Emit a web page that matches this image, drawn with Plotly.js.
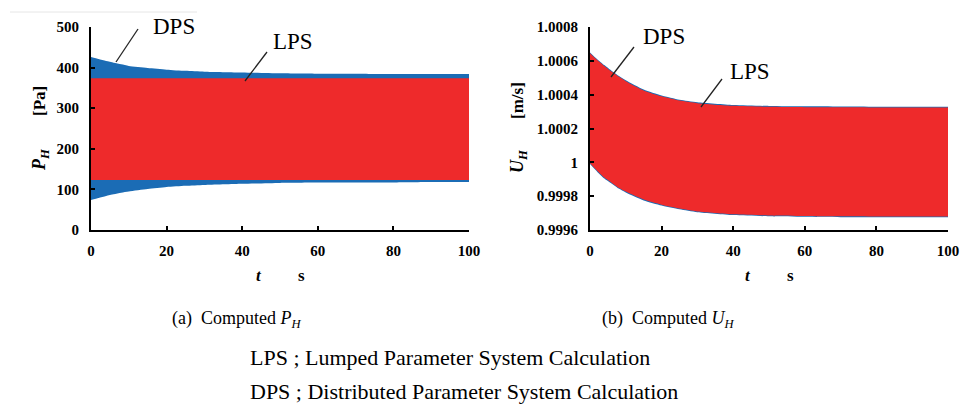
<!DOCTYPE html>
<html>
<head>
<meta charset="utf-8">
<script src="https://cdn.plot.ly/plotly-3.0.1.min.js"></script>
<style>html,body{margin:0;padding:0;background:#fff;}#chart{width:962px;height:408px;}</style>
</head>
<body>
<div id="chart"></div>
<script>
// time axis [s]
const t = [0, 2, 4, 6, 8, 10, 15, 20, 25, 30, 40, 50, 60, 70, 80, 90, 100];

// (a) P_H [Pa] envelopes
const pDpsUpper = [426, 421, 416, 412, 408, 404, 399, 395, 392, 390, 388, 386, 385, 385, 384, 384, 384];
const pDpsLower = [74, 79, 84, 88, 92, 95, 101, 106, 109, 111, 114, 116, 117, 117, 117, 118, 118];
const pLpsUpper = [374, 374, 374, 374, 374, 374, 374, 374, 374, 374, 374, 374, 374, 374, 374, 374, 374];
const pLpsLower = [123, 123, 123, 123, 123, 123, 123, 123, 123, 123, 123, 123, 123, 123, 123, 123, 123];

// (b) U_H [m/s] envelopes
const uLpsUpper = [1.000645, 1.000605, 1.00057, 1.000537, 1.000507, 1.00048, 1.000425, 1.00039, 1.000365, 1.00035, 1.000334, 1.000328, 1.000326, 1.000325, 1.000324, 1.000324, 1.000324];
const uLpsLower = [0.999995, 0.99995, 0.99991, 0.99988, 0.99985, 0.999827, 0.99978, 0.99975, 0.999727, 0.99971, 0.999693, 0.999686, 0.999683, 0.999681, 0.99968, 0.99968, 0.99968];
const uDpsUpper = [1.00065, 1.00061, 1.000575, 1.000542, 1.000512, 1.000485, 1.00043, 1.000395, 1.00037, 1.000355, 1.000339, 1.000333, 1.000331, 1.00033, 1.000329, 1.000329, 1.000329];
const uDpsLower = [0.99999, 0.999945, 0.999905, 0.999875, 0.999845, 0.999822, 0.999775, 0.999745, 0.999722, 0.999705, 0.999688, 0.999681, 0.999678, 0.999676, 0.999675, 0.999675, 0.999675];

const xTicks = [0, 20, 40, 60, 80, 100];
const pTicks = [0, 100, 200, 300, 400, 500];
const uTicks = [0.9996, 0.9998, 1, 1.0002, 1.0004, 1.0006, 1.0008];
const uTickText = ['0.9996', '0.9998', '1', '1.0002', '1.0004', '1.0006', '1.0008'];

const BLUE = '#1b6cb5';
const RED = '#ee2a2b';

function band(x, up, lo, color, xa, ya) {
  return [
    {x: x, y: up, type: 'scatter', mode: 'lines', line: {width: 0, color: color, shape: 'spline', smoothing: 0.6}, xaxis: xa, yaxis: ya, hoverinfo: 'skip', showlegend: false},
    {x: x, y: lo, type: 'scatter', mode: 'lines', line: {width: 0, color: color, shape: 'spline', smoothing: 0.6}, fill: 'tonexty', fillcolor: color, xaxis: xa, yaxis: ya, hoverinfo: 'skip', showlegend: false}
  ];
}

const data = [].concat(
  band(t, pDpsUpper, pDpsLower, BLUE, 'x', 'y'),
  band(t, pLpsUpper, pLpsLower, RED, 'x', 'y'),
  band(t, uDpsUpper, uDpsLower, BLUE, 'x2', 'y2'),
  band(t, uLpsUpper, uLpsLower, RED, 'x2', 'y2')
);

const serif = '"Liberation Serif", "Times New Roman", serif';
const tickFont = {family: serif, size: 15, color: '#000', weight: 'bold'};
const H = 408, W = 962;
function px(v) { return v / W; }
function py(v) { return 1 - v / H; }

const axBase = {
  showgrid: false, zeroline: false, showline: true, linecolor: '#000', linewidth: 2,
  ticks: 'inside', ticklen: 4, tickwidth: 2, tickcolor: '#000', tickfont: tickFont, fixedrange: true
};

function ann(x, y, text, size, extra) {
  return Object.assign({xref: 'paper', yref: 'paper', x: px(x), y: py(y), text: text, showarrow: false,
    xanchor: 'center', yanchor: 'middle', font: {family: serif, size: size, color: '#000'}}, extra || {});
}

const layout = {
  width: W, height: H,
  margin: {l: 0, r: 0, t: 0, b: 0},
  paper_bgcolor: '#fff', plot_bgcolor: 'rgba(0,0,0,0)',
  showlegend: false,
  font: {family: serif},
  xaxis: Object.assign({}, axBase, {domain: [px(91), px(469)], range: [0, 100], tickvals: xTicks, anchor: 'y', ticklabelstandoff: 6}),
  yaxis: Object.assign({}, axBase, {domain: [py(230), py(27)], range: [0, 500], tickvals: pTicks, anchor: 'x', ticklabelstandoff: 7}),
  xaxis2: Object.assign({}, axBase, {domain: [px(590), px(948)], range: [0, 100], tickvals: xTicks, anchor: 'y2', ticklabelstandoff: 6}),
  yaxis2: Object.assign({}, axBase, {domain: [py(230), py(27)], range: [0.9996, 1.0008], tickvals: uTicks, ticktext: uTickText, anchor: 'x2', ticklabelstandoff: 7}),
  shapes: [
    {type: 'line', xref: 'paper', yref: 'paper', x0: px(10), x1: px(197), y0: py(12), y1: py(12), line: {color: '#e6e6e6', width: 1}},
    {type: 'line', xref: 'paper', yref: 'paper', x0: px(138), y0: py(29), x1: px(116), y1: py(62), line: {color: '#222', width: 1.3}},
    {type: 'line', xref: 'paper', yref: 'paper', x0: px(267), y0: py(52), x1: px(245), y1: py(81), line: {color: '#222', width: 1.3}},
    {type: 'line', xref: 'paper', yref: 'paper', x0: px(634), y0: py(47), x1: px(611), y1: py(77), line: {color: '#222', width: 1.3}},
    {type: 'line', xref: 'paper', yref: 'paper', x0: px(722), y0: py(79), x1: px(701), y1: py(107), line: {color: '#222', width: 1.3}}
  ],
  annotations: [
    ann(174, 27, 'DPS', 23),
    ann(293, 42, 'LPS', 23),
    ann(664, 36, 'DPS', 23),
    ann(750, 71, 'LPS', 23),
    // y titles
    ann(39, 101, '<b>[Pa]</b>', 17, {textangle: -90}),
    ann(41, 160, '<b><i>P</i><sub><i>H</i></sub></b>', 18, {textangle: -90}),
    ann(517, 101, '<b>[m/s]</b>', 17, {textangle: -90}),
    ann(519, 161, '<b><i>U</i><sub><i>H</i></sub></b>', 18, {textangle: -90}),
    // x titles
    ann(259, 275, '<b><i>t</i></b>', 17),
    ann(301, 275, '<b>s</b>', 17),
    ann(748, 275, '<b><i>t</i></b>', 17),
    ann(790, 275, '<b>s</b>', 17),
    // captions
    ann(236, 319, '(a)&nbsp;&nbsp;Computed <i>P</i><sub><i>H</i></sub>', 18),
    ann(668, 319, '(b)&nbsp;&nbsp;Computed <i>U</i><sub><i>H</i></sub>', 18),
    ann(248, 357, 'LPS ; Lumped Parameter System Calculation', 22, {xanchor: 'left'}),
    ann(248, 391, 'DPS ; Distributed Parameter System Calculation', 22, {xanchor: 'left'})
  ]
};

Plotly.newPlot('chart', data, layout, {displayModeBar: false, staticPlot: true});
</script>
</body>
</html>
